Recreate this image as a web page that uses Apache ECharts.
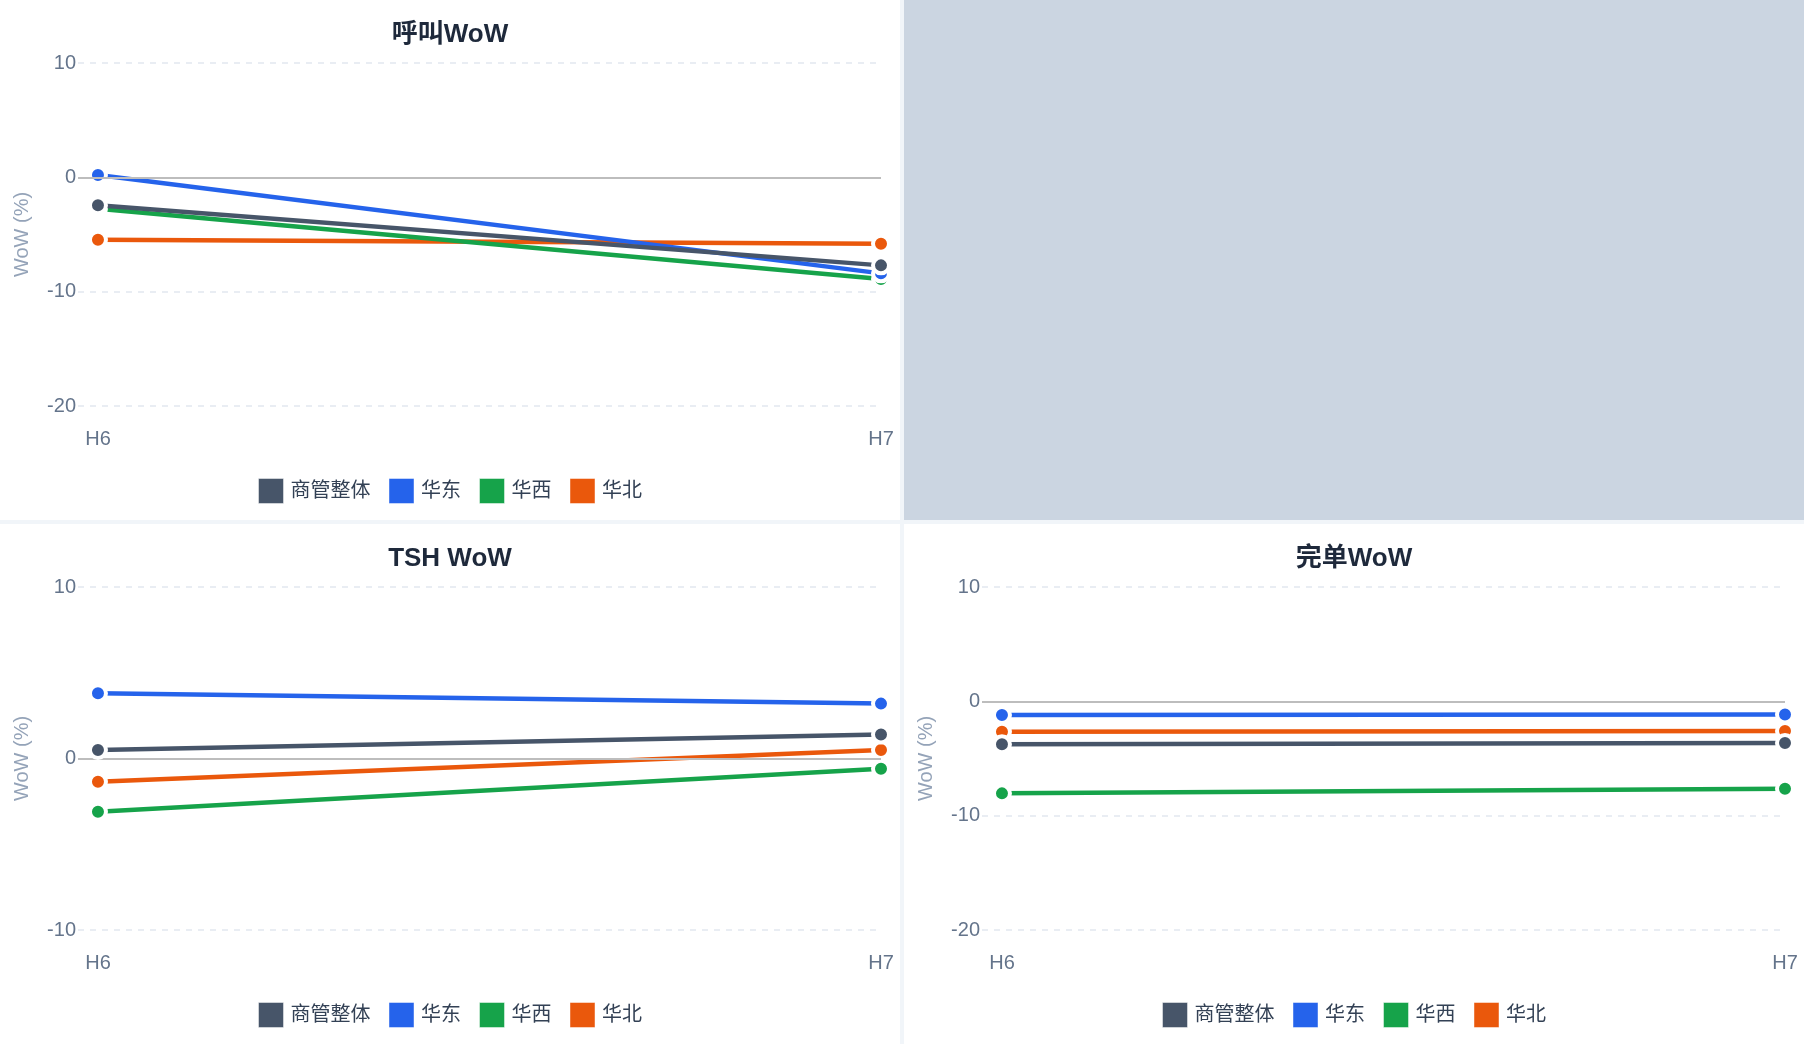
<!DOCTYPE html>
<html>
<head>
<meta charset="utf-8">
<script src="https://cdn.jsdelivr.net/npm/echarts@6/dist/echarts.min.js"></script>
<style>
  html, body { margin: 0; padding: 0; background: #f1f5f9; }
  #wrap { position: relative; width: 1804px; height: 1044px; background: #f1f5f9; overflow: hidden; }
  .panel { position: absolute; width: 900px; height: 520px; background: #ffffff; }
</style>
</head>
<body>
<div id="wrap">
  <div class="panel" id="c1" style="left:0;top:0;"></div>
  <div class="panel" id="c2" style="left:904px;top:0;background:#cbd5e1;"></div>
  <div class="panel" id="c3" style="left:0;top:524px;"></div>
  <div class="panel" id="c4" style="left:904px;top:524px;"></div>
</div>
<script>
// ---- data ----
const categories = ['H6', 'H7'];
const seriesNames = ['商管整体', '华东', '华西', '华北'];
const seriesColors = ['#475569', '#2563eb', '#16a34a', '#ea580c'];

const callTitle = '呼叫WoW';
const callWhole = [-2.45, -7.7];
const callEast = [0.2, -8.4];
const callWest = [-2.75, -8.9];
const callNorth = [-5.45, -5.8];
const callRange = [-20, 10];

const tshTitle = 'TSH WoW';
const tshWhole = [0.5, 1.4];
const tshEast = [3.8, 3.2];
const tshWest = [-3.1, -0.6];
const tshNorth = [-1.35, 0.5];
const tshRange = [-10, 10];

const doneTitle = '完单WoW';
const doneWhole = [-3.75, -3.65];
const doneEast = [-1.2, -1.15];
const doneWest = [-8.05, -7.65];
const doneNorth = [-2.65, -2.6];
const doneRange = [-20, 10];

const yTickStep = 10;
const yName = 'WoW (%)';

// ---- chart builder ----
const FONT = '"Liberation Sans", "Noto Sans CJK SC", sans-serif';

function buildOption(title, lists, range) {
  const zs = [5, 4, 3, 2];
  const series = lists.map((vals, i) => {
    const s = {
      name: seriesNames[i],
      type: 'line',
      z: zs[i],
      data: vals.map((v, k) => [k, v]),
      symbol: 'circle',
      symbolSize: 16,
      lineStyle: { width: 4.5, color: seriesColors[i] },
      itemStyle: { color: seriesColors[i], borderColor: '#ffffff', borderWidth: 4 },
      emphasis: { disabled: true },
      animation: false
    };
    if (i === lists.length - 1) {
      s.markLine = {
        silent: true,
        symbol: 'none',
        label: { show: false },
        lineStyle: { color: '#bdbdbd', width: 2, type: 'solid' },
        data: [{ yAxis: 0 }],
        animation: false
      };
    }
    return s;
  });
  return {
    animation: false,
    textStyle: { fontFamily: FONT },
    title: {
      text: title,
      left: 'center',
      top: 22,
      padding: 0,
      textStyle: { fontFamily: FONT, fontSize: 26, fontWeight: 'bold', color: '#1e293b' }
    },
    legend: {
      data: seriesNames,
      top: 478,
      left: 'center',
      icon: 'rect',
      itemWidth: 25,
      itemHeight: 25,
      itemGap: 18,
      padding: 0,
      itemStyle: { borderWidth: 1, borderColor: 'rgba(255,255,255,0.45)' },
      textStyle: { fontFamily: FONT, fontSize: 20, color: '#334155', padding: [0, 0, 0, 2] }
    },
    grid: { left: 78, right: 19, top: 63, bottom: 114, containLabel: false },
    xAxis: {
      type: 'value',
      min: -0.0255,
      max: 1,
      axisLine: { show: false },
      axisTick: { show: false },
      splitLine: { show: false },
      axisLabel: {
        customValues: categories.map((c, k) => k),
        formatter: v => categories[Math.round(v)] || '',
        color: '#64748b',
        fontSize: 20,
        fontFamily: FONT,
        margin: 23
      }
    },
    yAxis: {
      type: 'value',
      min: range[0],
      max: range[1],
      interval: yTickStep,
      name: yName,
      nameLocation: 'middle',
      nameGap: 46,
      nameTextStyle: { color: '#94a3b8', fontSize: 20, fontFamily: FONT },
      axisLine: { show: false },
      axisTick: { show: false },
      axisLabel: { color: '#64748b', fontSize: 20, fontFamily: FONT, margin: 2 },
      splitLine: { show: true, lineStyle: { color: '#e2e8f0', width: 1.5, type: [6, 6] } }
    },
    series: series
  };
}

const c1 = echarts.init(document.getElementById('c1'), null, { renderer: 'canvas' });
c1.setOption(buildOption(callTitle, [callWhole, callEast, callWest, callNorth], callRange));
const c3 = echarts.init(document.getElementById('c3'), null, { renderer: 'canvas' });
c3.setOption(buildOption(tshTitle, [tshWhole, tshEast, tshWest, tshNorth], tshRange));
const c4 = echarts.init(document.getElementById('c4'), null, { renderer: 'canvas' });
c4.setOption(buildOption(doneTitle, [doneWhole, doneEast, doneWest, doneNorth], doneRange));
</script>
</body>
</html>
